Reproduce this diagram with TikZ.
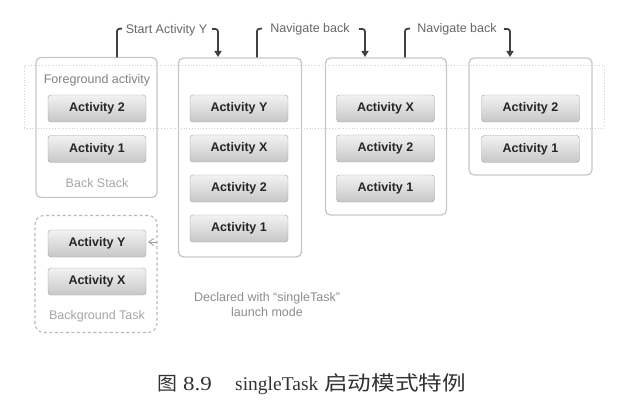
\documentclass[tikz,border=0pt]{standalone}
\usepackage{fontspec}
\setmainfont{Liberation Sans}
\newfontfamily\capserif{Liberation Serif}
\newfontfamily\cjk{Noto Sans CJK SC}
\usetikzlibrary{arrows.meta}
\begin{document}
\begin{tikzpicture}[x=1pt,y=-1pt,
  act/.style={draw=black!38, top color=black!5, bottom color=black!22, rounded corners=3pt,
    minimum width=98pt, minimum height=27pt, inner sep=0pt,
    font=\bfseries\fontsize{12.5}{14}\selectfont, text=black!85},
  stackbox/.style={draw=black!22, line width=1.3pt, rounded corners=5pt, inner sep=0pt},
  bgbox/.style={draw=black!28, dashed, dash pattern=on 3pt off 2.5pt, line width=1.1pt, rounded corners=9pt, inner sep=0pt},
  lbl/.style={font=\fontsize{12.5}{14}\selectfont, text=black!55, inner sep=0pt},
  note/.style={font=\fontsize{12.5}{15}\selectfont, text=black!45, inner sep=0pt, align=center},
  conn/.style={draw=black!75, line width=1.8pt},
  tipped/.style={conn, -{Triangle[length=6pt,width=7pt]}},
  captxt/.style={inner sep=0pt, anchor=base west, text=black!80}
]
\useasboundingbox (0,0) rectangle (624,409);

% foreground band
\node[draw=black!18, dotted, line width=0.8pt, minimum width=580pt, minimum height=63pt, inner sep=0pt] (band) at (314,96.5) {};

% stack containers
\node[stackbox, minimum width=121pt, minimum height=140pt] (s1) at (96.5,127.5) {};
\node[stackbox, minimum width=123pt, minimum height=199pt] (s2) at (240,157.5) {};
\node[stackbox, minimum width=121pt, minimum height=157pt] (s3) at (386,136.5) {};
\node[stackbox, minimum width=123pt, minimum height=117pt] (s4) at (530.5,116.5) {};
\node[bgbox, minimum width=122pt, minimum height=117pt] (bg) at (96,274) {};

% stack 1
\node[lbl, text=black!50] (fg) at (97,80) {Foreground activity};
\node[act] (a12) at (97,108.5) {Activity 2};
\node[act] (a11) at (97,149) {Activity 1};
\node[lbl, text=black!35] (bs) at (97,183) {Back Stack};

% stack 2
\node[act] (a2y) at (239,108.5) {Activity Y};
\node[act] (a2x) at (239,148.5) {Activity X};
\node[act] (a22) at (239,188.5) {Activity 2};
\node[act] (a21) at (239,228.5) {Activity 1};

% stack 3
\node[act] (a3x) at (385.5,108.5) {Activity X};
\node[act] (a32) at (385.5,148.5) {Activity 2};
\node[act] (a31) at (385.5,188.5) {Activity 1};

% stack 4
\node[act] (a42) at (530.5,108.5) {Activity 2};
\node[act] (a41) at (530.5,149) {Activity 1};

% background task
\node[act] (bgy) at (97,243.5) {Activity Y};
\node[act] (bgx) at (97,281.5) {Activity X};
\node[lbl, text=black!35] (bgt) at (97,316) {Background Task};

% small arrow into background task
\coordinate (ba1) at (157,242);
\coordinate (ba2) at (148,242);
\draw[black!40, line width=0.8pt, -{Straight Barb[length=5pt,width=7pt]}] (ba1) -- (ba2);

% note
\node[note] (decl) at (267,305) {Declared with ``singleTask''\\launch mode};

% connector labels
\node[lbl, text=black!60] (t1) at (166.5,30) {Start Activity Y};
\node[lbl, text=black!60] (t2) at (310,29) {Navigate back};
\node[lbl, text=black!60] (t3) at (457,29) {Navigate back};

% connectors
\coordinate (c1a) at (117,57.5);
\coordinate (c1b) at (218,57);
\coordinate (c2a) at (257,57.5);
\coordinate (c2b) at (365,57);
\coordinate (c3a) at (405,57.5);
\coordinate (c3b) at (510,57);
\draw[conn] (c1a) -- (117,34) .. controls (117,29) .. (122,28.5);
\draw[tipped] (212,29) .. controls (218,29) .. (218,35) -- (c1b);
\draw[conn] (c2a) -- (257,34) .. controls (257,29) .. (262,28.5);
\draw[tipped] (359,29) .. controls (365,29) .. (365,35) -- (c2b);
\draw[conn] (c3a) -- (405,34) .. controls (405,29) .. (410,28.5);
\draw[tipped] (504,29) .. controls (510,29) .. (510,35) -- (c3b);

% caption
\node[captxt] (cap1) at (157,390.5) {\scalebox{1.05}[1]{\cjk\fontsize{19}{20}\selectfont 图}};
\node[captxt] (cap2) at (183,390.5) {\scalebox{1.15}[1]{\capserif\fontsize{20}{20}\selectfont 8.9}};
\node[captxt] (cap3) at (235,390.5) {\capserif\fontsize{19.5}{20}\selectfont singleTask};
\node[captxt] (cap4) at (324,390.5) {\scalebox{1.18}[1]{\cjk\fontsize{20}{22}\selectfont 启动模式特例}};
\end{tikzpicture}
\end{document}
